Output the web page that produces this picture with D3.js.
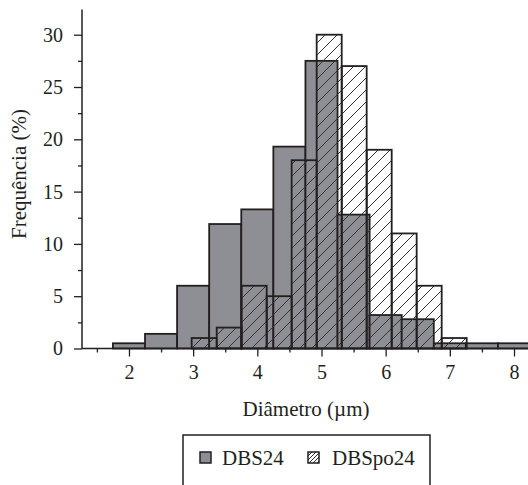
<!DOCTYPE html>
<html>
<head>
<meta charset="utf-8">
<script src="https://cdn.jsdelivr.net/npm/d3@7"></script>
<style>
html,body{margin:0;padding:0;background:#fff;}
svg{display:block;}
text{font-family:"Liberation Serif","Times New Roman",serif;fill:#231f20;}
</style>
</head>
<body>
<svg id="chart" width="528" height="485"></svg>
<script>
// DBS24 (solid grey) histogram: bin edges (µm) and frequency (%)
const dbsEdges = [1.75, 2.25, 2.75, 3.25, 3.75, 4.25, 4.75, 5.25, 5.75, 6.25, 6.75, 7.25, 7.75, 8.25];
const dbsValues = [0.5, 1.4, 6.0, 11.9, 13.3, 19.3, 27.5, 12.8, 3.2, 2.8, 0.5, 0.5, 0.5];
// DBSpo24 (hatched) histogram
const poEdges = [2.977, 3.367, 3.756, 4.146, 4.535, 4.925, 5.315, 5.704, 6.094, 6.483, 6.873, 7.263];
const poValues = [1, 2, 6, 5, 18, 30, 27, 19, 11, 6, 1];
// axes
const xTicks = [2, 3, 4, 5, 6, 7, 8];
const xMinor = [1.5, 2.5, 3.5, 4.5, 5.5, 6.5, 7.5];
const yTicks = [0, 5, 10, 15, 20, 25, 30];
const yMinor = [2.5, 7.5, 12.5, 17.5, 22.5, 27.5];
const seriesNames = ["DBS24", "DBSpo24"];
const xTitle = "Diâmetro (µm)";
const yTitle = "Frequência (%)";

const ink = "#231f20";
const grey = "#8e8f94";
const svg = d3.select("#chart");

const x = d3.scaleLinear().domain([1.268, 8.218]).range([82, 528]);
const y = d3.scaleLinear().domain([0, 32.4]).range([348.5, 9.6]);

const defs = svg.append("defs");
function hatch(id, size) {
  const p = defs.append("pattern").attr("id", id).attr("patternUnits", "userSpaceOnUse")
    .attr("width", size).attr("height", size);
  p.append("path")
    .attr("d", `M${-size/4},${size/4} L${size/4},${-size/4} M0,${size} L${size},0 M${size*0.75},${size*1.25} L${size*1.25},${size*0.75}`)
    .attr("stroke", "#333").attr("stroke-width", 1);
}
hatch("hatchBig", 12);
hatch("hatchSmall", 4);

const dbsBins = dbsValues.map((v, i) => ({x0: dbsEdges[i], x1: dbsEdges[i+1], v}));
const poBins = poValues.map((v, i) => ({x0: poEdges[i], x1: poEdges[i+1], v}));

const plot = svg.append("g");
plot.selectAll("rect.dbs").data(dbsBins).join("rect").attr("class", "dbs")
  .attr("x", d => x(d.x0)).attr("width", d => x(d.x1) - x(d.x0))
  .attr("y", d => y(d.v)).attr("height", d => y(0) - y(d.v))
  .attr("fill", grey).attr("stroke", ink).attr("stroke-width", 1.8);

plot.selectAll("rect.po").data(poBins).join("rect").attr("class", "po")
  .attr("x", d => x(d.x0)).attr("width", d => x(d.x1) - x(d.x0))
  .attr("y", d => y(d.v)).attr("height", d => y(0) - y(d.v))
  .attr("fill", "url(#hatchBig)").attr("stroke", ink).attr("stroke-width", 1.8);

// axes
const yAxis = svg.append("g").attr("transform", `translate(${x.range()[0]},0)`)
  .call(d3.axisLeft(y).tickValues(yTicks).tickSize(8).tickPadding(11).tickFormat(d3.format("d")));
svg.append("g").attr("transform", `translate(${x.range()[0]},0)`)
  .call(d3.axisLeft(y).tickValues(yMinor).tickSize(4).tickFormat(""));
const xAxis = svg.append("g").attr("transform", `translate(0,${y(0)})`)
  .call(d3.axisBottom(x).tickValues(xTicks).tickSize(8).tickPadding(8).tickFormat(d3.format("d")));
svg.append("g").attr("transform", `translate(0,${y(0)})`)
  .call(d3.axisBottom(x).tickValues(xMinor).tickSize(4).tickFormat(""));

svg.selectAll(".domain").attr("stroke", ink).attr("stroke-width", 1.5);
svg.selectAll(".tick line").attr("stroke", ink).attr("stroke-width", 1.3);
svg.selectAll(".tick text").attr("font-family", "Liberation Serif").attr("font-size", 20).attr("fill", ink);
// remove outer domain end ticks (draw plain lines)
svg.selectAll(".domain").attr("d", function() {
  const g = d3.select(this.parentNode);
  return null;
});
svg.selectAll(".domain").remove();
svg.append("line").attr("x1", x.range()[0]).attr("x2", x.range()[0]).attr("y1", y.range()[1]).attr("y2", y(0))
  .attr("stroke", ink).attr("stroke-width", 1.5);
svg.append("line").attr("x1", x.range()[0]).attr("x2", x.range()[1]).attr("y1", y(0)).attr("y2", y(0))
  .attr("stroke", ink).attr("stroke-width", 1.5);

// titles
svg.append("text").attr("x", 306).attr("y", 416).attr("text-anchor", "middle")
  .attr("font-size", 21).text(xTitle);
svg.append("text").attr("transform", "translate(26,174) rotate(-90)").attr("text-anchor", "middle")
  .attr("font-size", 21).text(yTitle);

// legend
const lg = svg.append("g");
lg.append("rect").attr("x", 183).attr("y", 435).attr("width", 247).attr("height", 80)
  .attr("fill", "none").attr("stroke", ink).attr("stroke-width", 1.5);
lg.append("rect").attr("x", 200).attr("y", 452).attr("width", 11).attr("height", 11)
  .attr("fill", grey).attr("stroke", ink).attr("stroke-width", 1.5);
lg.append("text").attr("x", 222).attr("y", 465).attr("font-size", 21).text(seriesNames[0]);
lg.append("rect").attr("x", 308).attr("y", 452).attr("width", 11).attr("height", 11)
  .attr("fill", "url(#hatchSmall)").attr("stroke", ink).attr("stroke-width", 1.5);
lg.append("text").attr("x", 332).attr("y", 465).attr("font-size", 21).text(seriesNames[1]);
</script>
</body>
</html>
